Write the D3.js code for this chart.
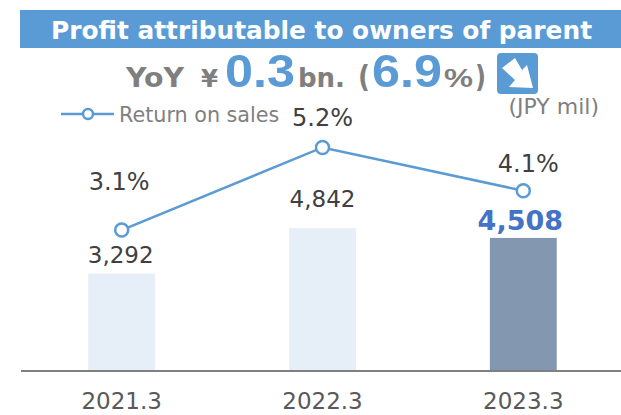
<!DOCTYPE html>
<html><head><meta charset="utf-8">
<script src="https://cdn.jsdelivr.net/npm/d3@7"></script>
<style>html,body{margin:0;padding:0;background:#fff}svg{display:block}text{font-family:"DejaVu Sans",sans-serif}</style>
</head><body><div id="chart"></div>
<script>
const categories = ["2021.3","2022.3","2023.3"];
const profit = [3292,4842,4508];
const profitLabels = ["3,292","4,842","4,508"];
const returnOnSales = [3.1,5.2,4.1];
const barColors = ["#e6eef8","#e6eef8","#8497b0"];
const headParts = [
 {t:"YoY",x:126,w:58,s:27,f:"DejaVu Sans",c:"#7f7f7f"},
 {t:"¥",x:201,w:17,s:24,f:"DejaVu Sans",c:"#7f7f7f"},
 {t:"0.3",x:225,w:70,s:46,f:"Liberation Sans",c:"#5b9bd5"},
 {t:"bn.",x:298,w:47,s:27,f:"DejaVu Sans",c:"#7f7f7f"},
 {t:"(",x:358,w:12,s:30,f:"DejaVu Sans",c:"#7f7f7f"},
 {t:"6.9",x:372,w:70,s:46,f:"Liberation Sans",c:"#5b9bd5"},
 {t:"%",x:444,w:29,s:26,f:"Liberation Sans",c:"#7f7f7f"},
 {t:")",x:475,w:11,s:30,f:"DejaVu Sans",c:"#7f7f7f"}
];

const W=621,H=415;
const svg=d3.select("#chart").append("svg").attr("width",W).attr("height",H);
const x=d3.scaleBand().domain(categories).range([21,624]).paddingInner(0.667).paddingOuter(0.335);
const y=d3.scaleLinear().domain([0,5000]).range([370,223.5]);
const yR=d3.scaleLinear().domain([0,6]).range([352,116]);
const cx=c=>x(c)+x.bandwidth()/2;

svg.append("rect").attr("x",20).attr("y",10).attr("width",601).attr("height",38).attr("fill","#5b9bd5");
svg.append("text").attr("x",51).attr("y",39).attr("font-size",24.8).attr("font-weight","bold").attr("fill","#fff")
 .attr("textLength",541).attr("lengthAdjust","spacingAndGlyphs").text("Profit attributable to owners of parent");

svg.selectAll(".head").data(headParts).join("text").attr("class","head")
 .attr("x",d=>d.x).attr("y",87).attr("font-weight","bold").attr("font-size",d=>d.s).attr("fill",d=>d.c)
 .style("font-family",d=>`"${d.f}",sans-serif`)
 .attr("textLength",d=>d.w).attr("lengthAdjust","spacingAndGlyphs").text(d=>d.t);

svg.append("rect").attr("x",497).attr("y",53).attr("width",41).attr("height",41).attr("rx",4).attr("fill","#5b9bd5");
svg.append("path").attr("d","M502,68 L515,58 L522,70 L527,65 L533,88 L509,87 L515,80 Z").attr("fill","#fff");

svg.append("text").attr("x",599).attr("y",114).attr("text-anchor","end").attr("font-size",22).attr("fill","#7f7f7f").text("(JPY mil)");

svg.append("line").attr("x1",61).attr("x2",114).attr("y1",114).attr("y2",114).attr("stroke","#5b9bd5").attr("stroke-width",2.5);
svg.append("circle").attr("cx",88).attr("cy",114).attr("r",5).attr("fill","#fff").attr("stroke","#5b9bd5").attr("stroke-width",2.5);
svg.append("text").attr("x",119).attr("y",121.5).attr("font-size",20.7).attr("fill","#7f7f7f").text("Return on sales");

svg.selectAll(".bar").data(categories).join("rect").attr("class","bar")
 .attr("x",x).attr("width",x.bandwidth())
 .attr("y",(c,i)=>y(profit[i])).attr("height",(c,i)=>370-y(profit[i]))
 .attr("fill",(c,i)=>barColors[i]);

const axis=svg.append("g").attr("transform","translate(0,371)")
 .call(d3.axisBottom(x).tickSize(0).tickPadding(22));
axis.select(".domain").attr("stroke","#7f7f7f").attr("stroke-width",2).attr("d","M21,0H621");
axis.selectAll("text").attr("font-size",23).attr("fill","#595959").style("font-family",'"DejaVu Sans",sans-serif');

svg.append("path").datum(categories).attr("fill","none").attr("stroke","#5b9bd5").attr("stroke-width",2.5)
 .attr("d",d3.line().x(cx).y((c,i)=>yR(returnOnSales[i])));
svg.selectAll(".pt").data(categories).join("circle").attr("class","pt")
 .attr("cx",cx).attr("cy",(c,i)=>yR(returnOnSales[i])).attr("r",6.5)
 .attr("fill","#fff").attr("stroke","#5b9bd5").attr("stroke-width",2.5);

svg.selectAll(".pct").data(categories).join("text").attr("class","pct")
 .attr("x",(c,i)=>cx(c)+[-2.5,0,5][i]).attr("y",(c,i)=>[190,126,172][i])
 .attr("text-anchor","middle").attr("font-size",24).attr("fill","#404040")
 .text((c,i)=>returnOnSales[i].toFixed(1)+"%");
svg.selectAll(".val").data(categories).join("text").attr("class","val")
 .attr("x",(c,i)=>cx(c)+[-1,0,-3][i]).attr("y",(c,i)=>[263,207,230][i])
 .attr("text-anchor","middle").attr("font-size",(c,i)=>i==2?27:23).attr("font-weight",(c,i)=>i==2?"bold":"normal")
 .attr("fill",(c,i)=>i==2?"#4472c4":"#404040").text((c,i)=>profitLabels[i]);
</script></body></html>
